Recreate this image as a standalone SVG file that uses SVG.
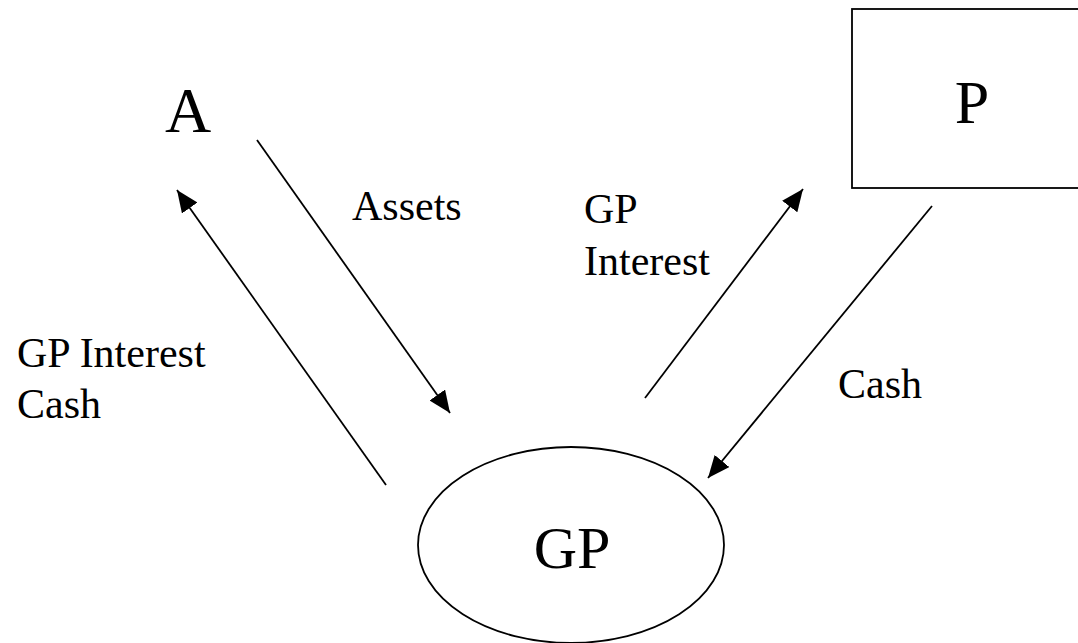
<svg xmlns="http://www.w3.org/2000/svg" width="1078" height="643" viewBox="0 0 1078 643">
<style>
.lbl{font-family:"Liberation Serif","Times New Roman",serif;font-size:42px;fill:#000}
.big{font-family:"Liberation Serif","Times New Roman",serif;fill:#000}
.edge{stroke:#000;stroke-width:1.8;fill:none}
.shape{stroke:#000;stroke-width:1.8;fill:#fff}
</style>
<defs>
<marker id="ah" markerUnits="userSpaceOnUse" markerWidth="24" markerHeight="20" refX="22" refY="9.5" orient="auto">
<path d="M0,0 L22,9.5 L0,19 Z" fill="#000"/>
</marker>
</defs>
<rect width="1078" height="643" fill="#fff"/>
<g id="node-A"><text class="big" x="188" y="132" font-size="64" text-anchor="middle">A</text></g>
<g id="node-P"><rect class="shape" x="852" y="9" width="240" height="179"/><text class="big" x="972" y="123" font-size="62" text-anchor="middle">P</text></g>
<g id="node-GP"><ellipse class="shape" cx="571" cy="545" rx="153" ry="98"/><text class="big" x="572" y="568" font-size="60" text-anchor="middle">GP</text></g>
<g id="connectors">
<line class="edge" x1="257" y1="140" x2="450" y2="413" marker-end="url(#ah)"/>
<line class="edge" x1="386" y1="485" x2="177" y2="190" marker-end="url(#ah)"/>
<line class="edge" x1="645" y1="398" x2="803" y2="189" marker-end="url(#ah)"/>
<line class="edge" x1="932" y1="206" x2="708" y2="478" marker-end="url(#ah)"/>
</g>
<g id="labels">
<text class="lbl" x="352" y="220">Assets</text>
<text class="lbl" x="584" y="223">GP</text>
<text class="lbl" x="584" y="275">Interest</text>
<text class="lbl" x="838" y="398">Cash</text>
<text class="lbl" x="17" y="367">GP Interest</text>
<text class="lbl" x="17" y="418">Cash</text>
</g>
</svg>
